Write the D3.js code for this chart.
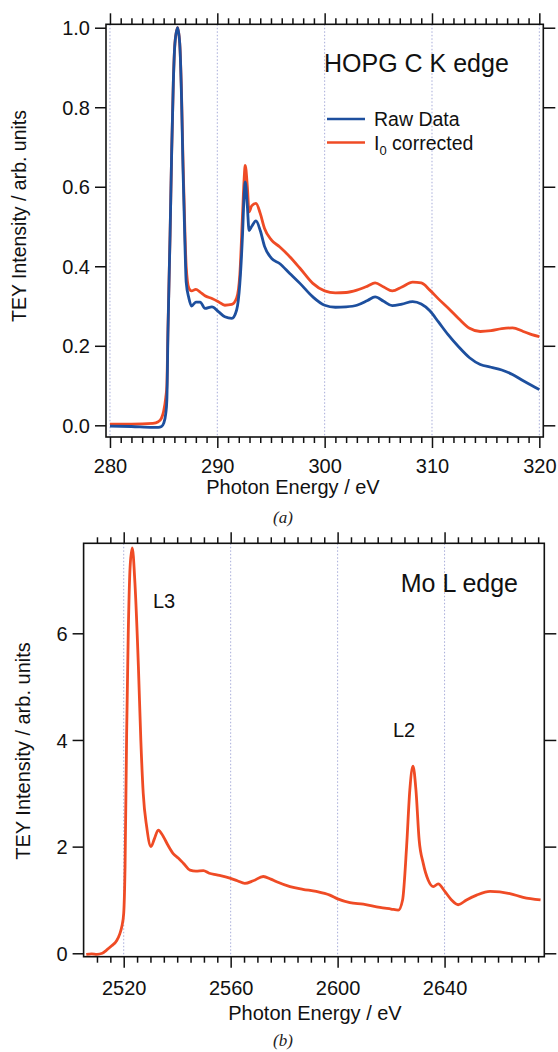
<!DOCTYPE html>
<html>
<head>
<meta charset="utf-8">
<script src="https://cdn.jsdelivr.net/npm/d3@7"></script>
<style>
  html, body { margin: 0; padding: 0; background: #fff; }
  svg { display: block; font-family: "Liberation Sans", Arial, Helvetica, sans-serif; }
</style>
</head>
<body>
<svg id="fig" width="558" height="1052"></svg>
<script>
// ---- HOPG C K edge (panel a) ----
const hopgEnergy = [280, 282, 284, 284.5, 284.8, 285.0, 285.2, 285.3, 285.4, 285.6, 285.75, 285.9, 286.05,
  286.3, 286.5, 286.67, 286.8, 287.0, 287.1, 287.35, 287.6, 288.0, 288.4, 288.85, 289.5, 290.1, 290.7,
  291.35, 291.8, 292.1, 292.35, 292.5, 292.6, 292.8, 292.96, 293.2, 293.6, 294.0, 294.4, 295.05, 295.8,
  296.75, 297.7, 298.9, 300, 301, 302, 303, 304, 304.7, 305.5, 306.3, 307.2, 308.2, 309.0, 309.8, 310.6,
  311.5, 312.5, 313.5, 314.5, 315.5, 316.5, 317.5, 318.5, 319.3, 320];
const hopgRaw = [-0.002, -0.003, -0.005, -0.005, -0.003, 0.005, 0.03, 0.064, 0.23, 0.48, 0.69, 0.86, 0.96,
  1.0, 0.96, 0.82, 0.65, 0.44, 0.36, 0.32, 0.30, 0.31, 0.31, 0.294, 0.298, 0.286, 0.273,
  0.269, 0.29, 0.357, 0.48, 0.58, 0.612, 0.55, 0.49, 0.50, 0.514, 0.49, 0.45, 0.42, 0.407,
  0.382, 0.357, 0.323, 0.302, 0.297, 0.298, 0.302, 0.314, 0.323, 0.312, 0.301, 0.305, 0.311, 0.305, 0.288, 0.26,
  0.228, 0.197, 0.17, 0.153, 0.146, 0.139, 0.128, 0.112, 0.10, 0.09];
const hopgCorrected = [0.003, 0.003, 0.005, 0.009, 0.018, 0.035, 0.07, 0.10, 0.24, 0.48, 0.69, 0.86, 0.96,
  1.0, 0.96, 0.83, 0.67, 0.47, 0.40, 0.345, 0.338, 0.342, 0.335, 0.326, 0.319, 0.311, 0.302,
  0.304, 0.32, 0.38, 0.53, 0.62, 0.654, 0.60, 0.537, 0.552, 0.558, 0.533, 0.495, 0.466, 0.449,
  0.424, 0.395, 0.357, 0.338, 0.333, 0.334, 0.34, 0.35, 0.358, 0.348, 0.338, 0.348, 0.36, 0.358, 0.34, 0.318,
  0.295, 0.268, 0.244, 0.236, 0.238, 0.243, 0.245, 0.236, 0.228, 0.223];
const hopgXTicks = [280, 290, 300, 310, 320];
const hopgYTicks = [0, 0.2, 0.4, 0.6, 0.8, 1.0];

// ---- Mo L edge (panel b) ----
const moEnergy = [2506, 2508, 2510, 2512, 2513.6, 2515.5, 2517.4, 2518.5, 2519.3, 2520, 2520.5, 2521.1,
  2521.7, 2522.4, 2523.2, 2524.2, 2525.5, 2526.4, 2527.3, 2528.6, 2530.2, 2531.5, 2532.9, 2534.8, 2536.5,
  2538.5, 2540.5, 2542.3, 2544.8, 2547, 2549.8, 2552, 2554.8, 2559.7, 2562.5, 2565.3, 2568.5, 2572.2,
  2575, 2577.2, 2582.2, 2587, 2592, 2597.1, 2600, 2604.6, 2609.6, 2615.8, 2620, 2622.7, 2624.3, 2625.8,
  2627.0, 2628.2, 2629.3, 2630.5, 2632.0, 2633.9, 2635.8, 2637.6, 2640.1, 2642.6, 2645.1, 2648.2, 2652.0,
  2657.0, 2664.4, 2669.4, 2675.9];
const moIntensity = [-0.02, -0.01, -0.02, 0.0, 0.06, 0.14, 0.24, 0.36, 0.5, 0.75, 1.62, 4.13,
  6.0, 7.25, 7.6, 6.94, 5.37, 4.0, 3.0, 2.37, 2.0, 2.15, 2.31, 2.19, 2.03,
  1.87, 1.78, 1.69, 1.56, 1.54, 1.55, 1.5, 1.47, 1.41, 1.36, 1.31, 1.36, 1.44,
  1.39, 1.34, 1.25, 1.2, 1.16, 1.09, 1.02, 0.95, 0.92, 0.86, 0.83, 0.81, 1.0, 2.0,
  3.06, 3.51, 3.06, 2.12, 1.69, 1.37, 1.25, 1.3, 1.16, 1.0, 0.91, 1.0, 1.09,
  1.16, 1.12, 1.05, 1.0];
const moXTicks = [2520, 2560, 2600, 2640];
const moYTicks = [0, 2, 4, 6];

const seriesColors = { raw: "#1d4f9e", corrected: "#ef4b25" };
const gridColor = "#a7acd9";

const svg = d3.select("#fig");

function drawPanel(opt) {
  const { x, y } = opt;
  const [x0, x1] = x.range();
  const [yb, yt] = y.range();
  const g = svg.append("g");

  // dotted vertical grid at major energies
  g.append("g").selectAll("line").data(opt.xMajor).join("line")
    .attr("x1", d => x(d)).attr("x2", d => x(d))
    .attr("y1", yt).attr("y2", yb)
    .attr("stroke", gridColor).attr("stroke-width", 1)
    .attr("stroke-dasharray", "1.5,2");

  // curves
  const line = d3.line().x(d => x(d[0])).y(d => y(d[1])).curve(d3.curveMonotoneX);
  opt.series.forEach(s => {
    g.append("path")
      .datum(s.energy.map((e, i) => [e, s.values[i]]))
      .attr("fill", "none")
      .attr("stroke", s.color)
      .attr("stroke-width", 2.8)
      .attr("stroke-linejoin", "round")
      .attr("d", line);
  });

  // axes (outward ticks on all four sides)
  const styleAxis = sel => {
    sel.select(".domain").remove();
    sel.selectAll(".tick line").attr("stroke", "#111").attr("stroke-width", 1.5);
    sel.selectAll("text").attr("fill", "#111").style("font-size", "20px")
      .style("font-family", "'Liberation Sans', Arial, sans-serif");
  };

  // bottom
  g.append("g").attr("transform", `translate(0,${yb})`)
    .call(d3.axisBottom(x).tickValues(opt.xMinor).tickSize(6).tickFormat(""))
    .call(styleAxis);
  const bx = g.append("g").attr("transform", `translate(0,${yb})`)
    .call(d3.axisBottom(x).tickValues(opt.xMajor).tickSize(11).tickPadding(10).tickFormat(d3.format("d")))
    .call(styleAxis);
  bx.selectAll("text").attr("dy", null).attr("y", opt.xLabelBaseline - yb);

  // top
  g.append("g").attr("transform", `translate(0,${yt})`)
    .call(d3.axisTop(x).tickValues(opt.xMinor).tickSize(6).tickFormat(""))
    .call(styleAxis);
  g.append("g").attr("transform", `translate(0,${yt})`)
    .call(d3.axisTop(x).tickValues(opt.xMajor).tickSize(11).tickFormat(""))
    .call(styleAxis);

  // left
  const ly = g.append("g").attr("transform", `translate(${x0},0)`)
    .call(d3.axisLeft(y).tickValues(opt.yMajor).tickSize(11).tickPadding(5).tickFormat(opt.yFormat))
    .call(styleAxis);
  ly.selectAll("text").attr("dy", "0.36em");

  // right
  g.append("g").attr("transform", `translate(${x1},0)`)
    .call(d3.axisRight(y).tickValues(opt.yMajor).tickSize(12).tickFormat(""))
    .call(styleAxis);

  // frame
  g.append("rect")
    .attr("x", x0).attr("y", yt).attr("width", x1 - x0).attr("height", yb - yt)
    .attr("fill", "none").attr("stroke", "#111").attr("stroke-width", 1.6);

  // axis titles
  g.append("text")
    .attr("x", opt.xTitleX).attr("y", opt.xTitleY)
    .attr("text-anchor", "middle").attr("fill", "#111")
    .style("font-size", "20px")
    .text("Photon Energy / eV");
  g.append("text")
    .attr("transform", `translate(${opt.yTitleX},${opt.yTitleY}) rotate(-90)`)
    .attr("text-anchor", "middle").attr("fill", "#111")
    .style("font-size", opt.yTitleSize + "px")
    .text("TEY Intensity / arb. units");

  // panel caption
  g.append("text")
    .attr("x", 283).attr("y", opt.captionY)
    .attr("text-anchor", "middle").attr("fill", "#222")
    .style("font-family", "'Liberation Serif', 'Times New Roman', serif")
    .style("font-style", "italic").style("font-size", "17px")
    .text(opt.caption);

  return g;
}

// panel (a)
const xA = d3.scaleLinear().domain([279.63, 320.37]).range([106, 543.3]);
const yA = d3.scaleLinear().domain([-0.0294, 1.0086]).range([437, 24.3]);
const gA = drawPanel({
  x: xA, y: yA,
  xMajor: hopgXTicks,
  xMinor: d3.range(280, 321, 1).filter(v => v % 10 !== 0),
  yMajor: hopgYTicks,
  yFormat: d3.format(".1f"),
  xLabelBaseline: 472.5,
  xTitleX: 293, xTitleY: 494,
  yTitleX: 26, yTitleY: 216, yTitleSize: 19.5,
  caption: "(a)", captionY: 523,
  series: [
    { energy: hopgEnergy, values: hopgCorrected, color: seriesColors.corrected },
    { energy: hopgEnergy, values: hopgRaw, color: seriesColors.raw }
  ]
});

gA.append("text").attr("x", 324).attr("y", 72).attr("fill", "#111")
  .style("font-size", "25px").text("HOPG C K edge");

// legend
const legend = gA.append("g");
const legendItems = [
  { key: "raw", y: 119 },
  { key: "corrected", y: 142.5 }
];
legend.selectAll("line").data(legendItems).join("line")
  .attr("x1", 327).attr("x2", 365)
  .attr("y1", d => d.y).attr("y2", d => d.y)
  .attr("stroke", d => seriesColors[d.key]).attr("stroke-width", 2.6);
legend.append("text").attr("x", 374).attr("y", 126).attr("fill", "#111")
  .style("font-size", "19.5px").text("Raw Data");
const corrLabel = legend.append("text").attr("x", 374).attr("y", 149.5).attr("fill", "#111")
  .style("font-size", "19.5px");
corrLabel.append("tspan").text("I");
corrLabel.append("tspan").attr("dy", 5).style("font-size", "13px").text("0");
corrLabel.append("tspan").attr("dy", -5).text(" corrected");

// panel (b)
const xB = d3.scaleLinear().domain([2505, 2677.3]).range([83.6, 544.3]);
const yB = d3.scaleLinear().domain([-0.064, 7.6875]).range([956.7, 543.3]);
const gB = drawPanel({
  x: xB, y: yB,
  xMajor: moXTicks,
  xMinor: d3.range(2510, 2676, 5).filter(v => v % 40 !== 0),
  yMajor: moYTicks,
  yFormat: d3.format("d"),
  xLabelBaseline: 995.5,
  xTitleX: 315, xTitleY: 1020,
  yTitleX: 30, yTitleY: 751, yTitleSize: 20,
  caption: "(b)", captionY: 1046,
  series: [
    { energy: moEnergy, values: moIntensity, color: seriesColors.corrected }
  ]
});

gB.append("text").attr("x", 518).attr("y", 592).attr("text-anchor", "end").attr("fill", "#111")
  .style("font-size", "25px").text("Mo L edge");
gB.append("text").attr("x", 153).attr("y", 608).attr("fill", "#111")
  .style("font-size", "20px").text("L3");
gB.append("text").attr("x", 393).attr("y", 737).attr("fill", "#111")
  .style("font-size", "20px").text("L2");
</script>
</body>
</html>
